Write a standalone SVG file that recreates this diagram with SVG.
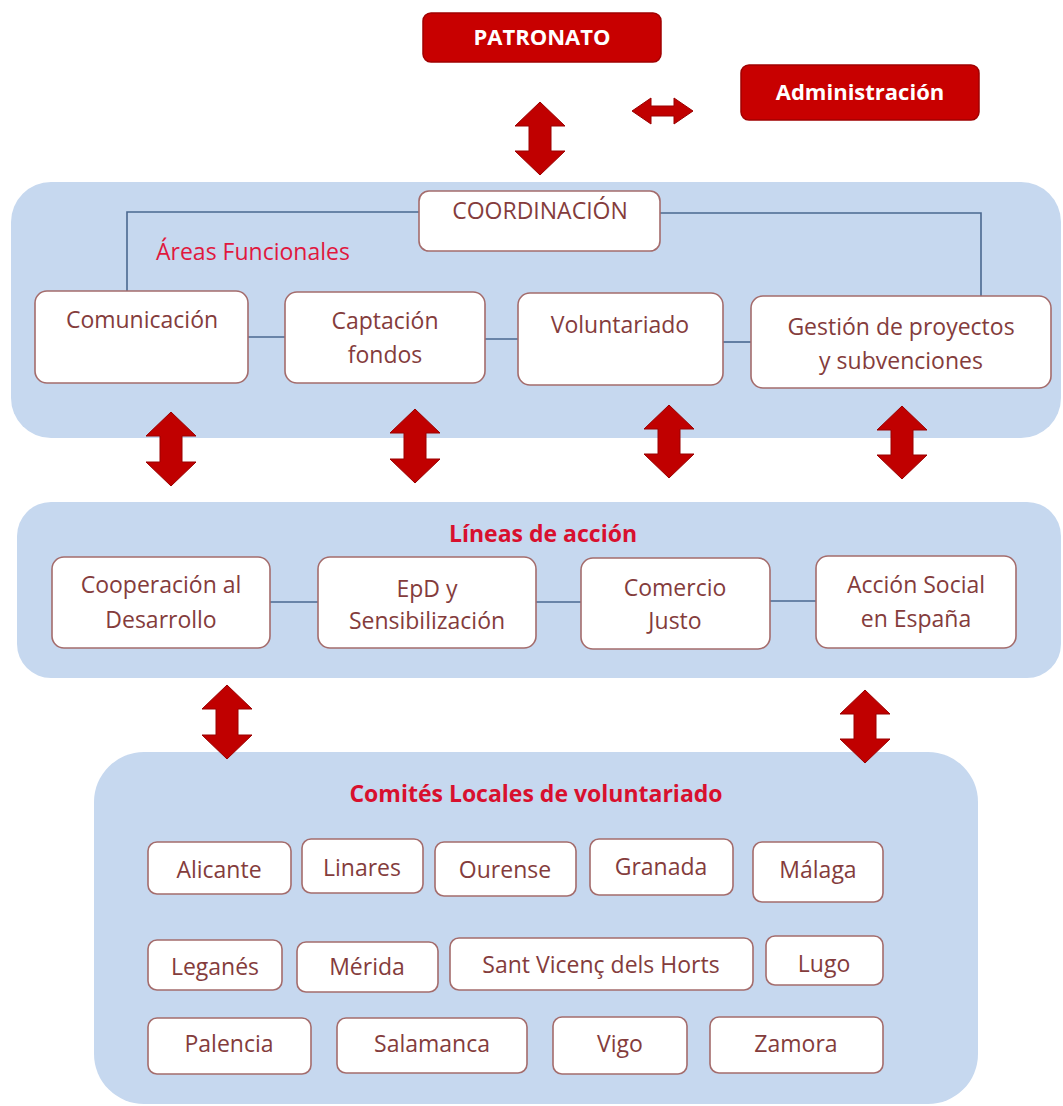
<svg xmlns="http://www.w3.org/2000/svg" width="1063" height="1106" viewBox="0 0 1063 1106">
<style>
.panel{fill:#c6d8ef;}
.box{fill:#ffffff;stroke:#a46c6c;stroke-width:1.6;}
.rbox{fill:#c80000;stroke:#a00000;stroke-width:1.5;}
.t{font-family:"Open Sans","Noto Sans",sans-serif;font-size:23px;fill:#843c3c;text-anchor:middle;}
.rt{font-family:"Open Sans","Noto Sans",sans-serif;font-size:22px;font-weight:bold;fill:#ffffff;text-anchor:middle;}
.title{font-family:"Open Sans","Noto Sans",sans-serif;font-size:23px;font-weight:bold;fill:#d8102e;text-anchor:middle;}
.area{font-family:"Open Sans","Noto Sans",sans-serif;font-size:23px;fill:#e0183e;}
.ln{fill:none;stroke:#4a6890;stroke-width:1.6;}
.arr{fill:#c00000;stroke:#9a0000;stroke-width:1;}
</style>
<rect width="1063" height="1106" fill="#ffffff"/>
<g id="panels">
<rect id="panel-areas" class="panel" x="11" y="182" width="1050" height="256" rx="40"/>
<rect id="panel-lineas" class="panel" x="17" y="502" width="1044" height="176" rx="34"/>
<rect id="panel-comites" class="panel" x="94" y="752" width="884" height="352" rx="50"/>
</g>
<g id="connectors">
<path class="ln" d="M419,212 H127 V291"/>
<path class="ln" d="M660,213 H981 V297"/>
<path class="ln" d="M248,337 H285"/>
<path class="ln" d="M485,339 H518"/>
<path class="ln" d="M723,342 H751"/>
<path class="ln" d="M270,602 H318"/>
<path class="ln" d="M536,602 H581"/>
<path class="ln" d="M770,601 H816"/>
<path class="arr" d="M540,102 L565,126 L551,126 L551,151 L565,151 L540,175 L515,151 L529,151 L529,126 L515,126 Z"/>
<path class="arr" d="M632,111 L651,98 L651,106 L674,106 L674,98 L693,111 L674,124 L674,116 L651,116 L651,124 Z"/>
<path class="arr" d="M171,412 L196,436 L182,436 L182,462 L196,462 L171,486 L146,462 L160,462 L160,436 L146,436 Z"/>
<path class="arr" d="M415,409 L440,433 L426,433 L426,459 L440,459 L415,483 L390,459 L404,459 L404,433 L390,433 Z"/>
<path class="arr" d="M669,405 L694,429 L680,429 L680,454 L694,454 L669,478 L644,454 L658,454 L658,429 L644,429 Z"/>
<path class="arr" d="M902,406 L927,430 L913,430 L913,455 L927,455 L902,479 L877,455 L891,455 L891,430 L877,430 Z"/>
<path class="arr" d="M227,685 L252,709 L238,709 L238,735 L252,735 L227,759 L202,735 L216,735 L216,709 L202,709 Z"/>
<path class="arr" d="M865,690 L890,714 L876,714 L876,739 L890,739 L865,763 L840,739 L854,739 L854,714 L840,714 Z"/>
</g>
<g id="node-patronato"><rect class="rbox" x="423" y="13" width="238" height="49" rx="8"/><text class="rt" x="542" y="45">PATRONATO</text></g>
<g id="node-administracion"><rect class="rbox" x="741" y="65" width="238" height="55" rx="8"/><text class="rt" x="860" y="100">Administración</text></g>
<g id="node-coordinacion"><rect class="box" x="419" y="191" width="241" height="60" rx="10"/><text class="t" x="540" y="219">COORDINACIÓN</text></g>
<text id="label-areas" class="area" x="156" y="260">Áreas Funcionales</text>
<g id="node-comunicacion"><rect class="box" x="35" y="291" width="213" height="92" rx="12"/><text class="t" x="142" y="328">Comunicación</text></g>
<g id="node-captacion"><rect class="box" x="285" y="292" width="200" height="91" rx="12"/><text class="t" x="385" y="329">Captación</text><text class="t" x="385" y="363">fondos</text></g>
<g id="node-voluntariado"><rect class="box" x="518" y="293" width="205" height="92" rx="12"/><text class="t" x="620" y="333">Voluntariado</text></g>
<g id="node-gestion"><rect class="box" x="751" y="296" width="300" height="92" rx="12"/><text class="t" x="901" y="335">Gestión de proyectos</text><text class="t" x="901" y="369">y subvenciones</text></g>
<text id="label-lineas" class="title" x="543" y="542">Líneas de acción</text>
<g id="node-cooperacion"><rect class="box" x="52" y="557" width="218" height="91" rx="12"/><text class="t" x="161" y="593">Cooperación al</text><text class="t" x="161" y="628">Desarrollo</text></g>
<g id="node-epd"><rect class="box" x="318" y="557" width="218" height="91" rx="12"/><text class="t" x="427" y="597">EpD y</text><text class="t" x="427" y="629">Sensibilización</text></g>
<g id="node-comercio"><rect class="box" x="581" y="558" width="189" height="91" rx="12"/><text class="t" x="675" y="596">Comercio</text><text class="t" x="675" y="629">Justo</text></g>
<g id="node-accion"><rect class="box" x="816" y="556" width="200" height="92" rx="12"/><text class="t" x="916" y="593">Acción Social</text><text class="t" x="916" y="627">en España</text></g>
<text id="label-comites" class="title" x="536" y="802">Comités Locales de voluntariado</text>
<g id="node-alicante"><rect class="box" x="148" y="842" width="143" height="52" rx="9"/><text class="t" x="219" y="878">Alicante</text></g>
<g id="node-linares"><rect class="box" x="302" y="839" width="121" height="54" rx="9"/><text class="t" x="362" y="876">Linares</text></g>
<g id="node-ourense"><rect class="box" x="435" y="842" width="141" height="54" rx="9"/><text class="t" x="505" y="878">Ourense</text></g>
<g id="node-granada"><rect class="box" x="590" y="839" width="143" height="56" rx="9"/><text class="t" x="661" y="875">Granada</text></g>
<g id="node-malaga"><rect class="box" x="753" y="842" width="130" height="60" rx="9"/><text class="t" x="818" y="878">Málaga</text></g>
<g id="node-leganes"><rect class="box" x="148" y="940" width="134" height="50" rx="9"/><text class="t" x="215" y="975">Leganés</text></g>
<g id="node-merida"><rect class="box" x="297" y="942" width="141" height="50" rx="9"/><text class="t" x="367" y="975">Mérida</text></g>
<g id="node-santvicenc"><rect class="box" x="450" y="938" width="303" height="52" rx="9"/><text class="t" x="601" y="973">Sant Vicenç dels Horts</text></g>
<g id="node-lugo"><rect class="box" x="766" y="936" width="117" height="49" rx="9"/><text class="t" x="824" y="972">Lugo</text></g>
<g id="node-palencia"><rect class="box" x="148" y="1018" width="163" height="56" rx="9"/><text class="t" x="229" y="1052">Palencia</text></g>
<g id="node-salamanca"><rect class="box" x="337" y="1018" width="190" height="55" rx="9"/><text class="t" x="432" y="1052">Salamanca</text></g>
<g id="node-vigo"><rect class="box" x="553" y="1017" width="134" height="57" rx="9"/><text class="t" x="620" y="1052">Vigo</text></g>
<g id="node-zamora"><rect class="box" x="710" y="1017" width="173" height="56" rx="9"/><text class="t" x="796" y="1052">Zamora</text></g>
</svg>
